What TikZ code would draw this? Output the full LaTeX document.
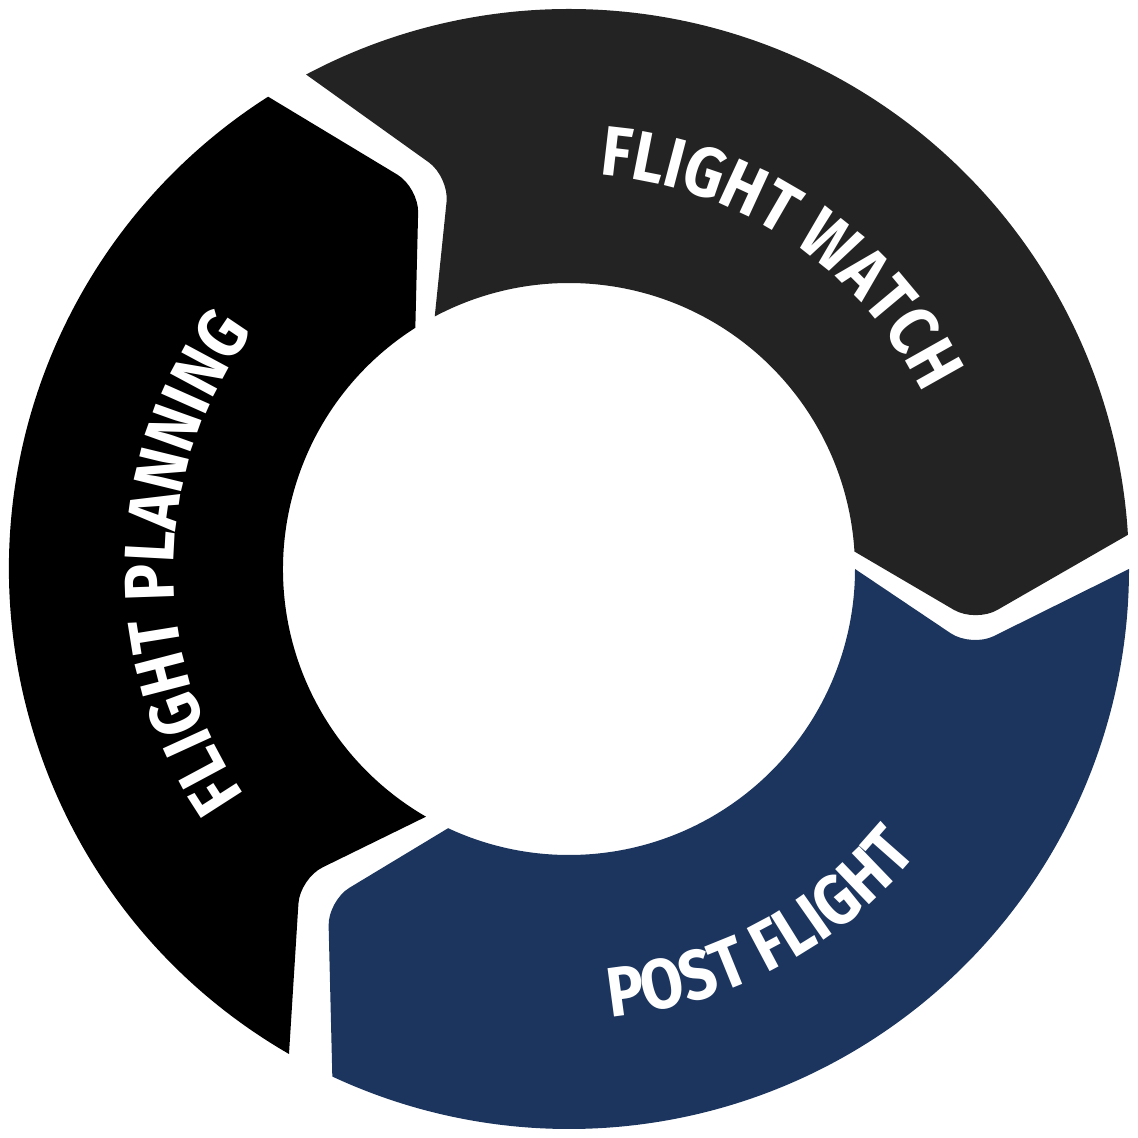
\documentclass[tikz,border=0pt]{standalone}
\usepackage{fontspec}
\usepackage{tikz}
\usetikzlibrary{decorations.text}
\newfontfamily\segfont[FakeStretch=0.88]{Fira Sans}
\definecolor{watchgray}{HTML}{232323}
\definecolor{postblue}{HTML}{1C355E}
\newcommand\Ro{5.6}
\newcommand\Ri{2.86}
% band piece: start angle, end angle, colour
\newcommand\segment[3]{%
  \fill[#3] (#1:\Ro) arc[start angle=#1, end angle=#2, radius=\Ro]
    [rounded corners=2.5mm] -- (#2-11:4.1) [sharp corners] -- (#2:\Ri)
    arc[start angle=#2, end angle=#1, radius=\Ri]
    [rounded corners=2.5mm] -- (#1-11:4.1) [sharp corners] -- cycle;}
\tikzset{
  seglabel/.style={decorate, decoration={text along path, text align=center,
    text color=white, text={|\segfont\fontsize{20}{24}\bfseries|#1}}}
}
\begin{document}
\begin{tikzpicture}
  \useasboundingbox (-5.69,-5.69) rectangle (5.68,5.69);
  % three arrow pieces of the ring
  \segment{118}{3.5}{watchgray}
  \segment{0}{-115}{postblue}
  \segment{-120}{-237.5}{black}

  % labels
  \path[seglabel={FLIGHT WATCH}] (117:3.95) arc[start angle=117, end angle=-5, radius=3.95];
  \path[seglabel={POST FLIGHT}] (-107:4.5) arc[start angle=-107, end angle=-17, radius=4.5];
  \path[seglabel={FLIGHT PLANNING}] (240:3.95) arc[start angle=240, end angle=118, radius=3.95];
\end{tikzpicture}
\end{document}
